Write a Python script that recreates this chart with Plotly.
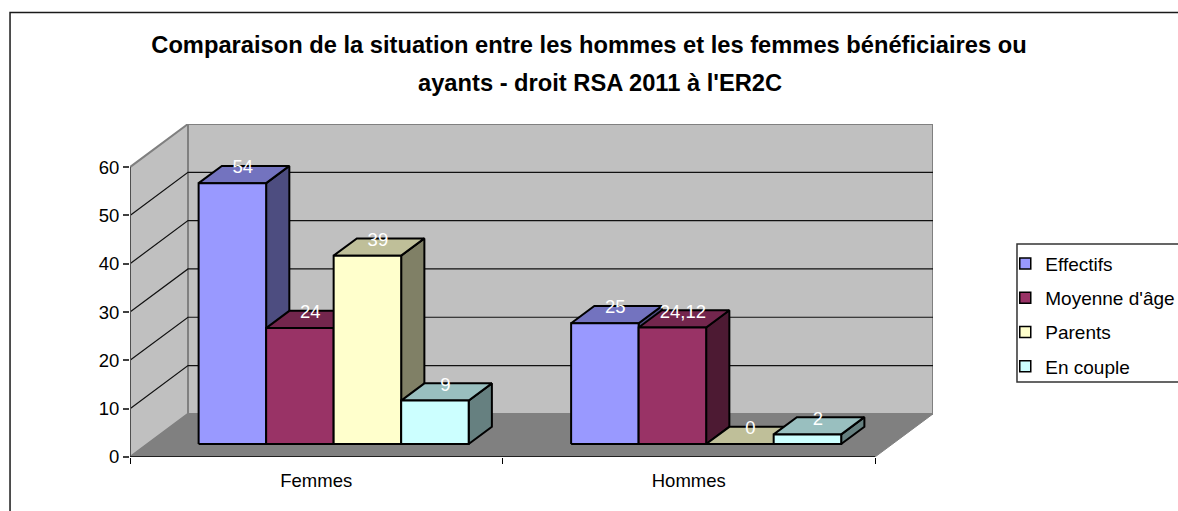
import plotly.graph_objects as go

# Données
categories = ["Femmes", "Hommes"]
series_names = ["Effectifs", "Moyenne d'âge", "Parents", "En couple"]
effectifs = [54, 25]
moyenne_age = [24, 24.12]
parents = [39, 0]
en_couple = [9, 2]
labels_effectifs = ["54", "25"]
labels_moyenne = ["24", "24,12"]
labels_parents = ["39", "0"]
labels_couple = ["9", "2"]
y_ticks = [0, 10, 20, 30, 40, 50, 60]

series = [effectifs, moyenne_age, parents, en_couple]
series_labels = [labels_effectifs, labels_moyenne, labels_parents, labels_couple]

# Couleurs : face avant, dessus, côté
front_colors = ["#9999FF", "#993366", "#FFFFCC", "#CCFFFF"]
top_colors = ["#7373BF", "#73264D", "#BFBF99", "#99BFBF"]
side_colors = ["#4D4D80", "#4D1A33", "#808066", "#668080"]

# Perspective oblique, en unités d'axes
DEPTH_X = 0.1557
DEPTH_Y = 8.92
Y_MAX = 60
BAND = 0.725          # part de la catégorie occupée par les barres
Z0, Z1 = 0.30, 0.70   # profondeur des barres

FONT = "Liberation Sans"


def project(x, y, z=0.0):
    return x + z * DEPTH_X, y + z * DEPTH_Y


def poly(points, color, line_color="black", line_width=2):
    pts = [project(*p) for p in points]
    pts.append(pts[0])
    return go.Scatter(x=[p[0] for p in pts], y=[p[1] for p in pts],
                      mode="lines", fill="toself", fillcolor=color,
                      line=dict(color=line_color, width=line_width),
                      hoverinfo="skip", showlegend=False, cliponaxis=False)


def polyline(points, color, width=1.0):
    pts = [project(*p) for p in points]
    return go.Scatter(x=[p[0] for p in pts], y=[p[1] for p in pts],
                      mode="lines", line=dict(color=color, width=width),
                      hoverinfo="skip", showlegend=False, cliponaxis=False)


fig = go.Figure()
n_cat = len(categories)

# Parois et sol
wall = "#C0C0C0"
edge = "#808080"
fig.add_trace(poly([(0, 0, 0), (0, Y_MAX, 0), (0, Y_MAX, 1), (0, 0, 1)], wall, edge, 2))
fig.add_trace(poly([(0, 0, 1), (0, Y_MAX, 1), (n_cat, Y_MAX, 1), (n_cat, 0, 1)], wall, edge, 2))
fig.add_trace(poly([(0, 0, 0), (n_cat, 0, 0), (n_cat, 0, 1), (0, 0, 1)], edge, edge, 1))

# Quadrillage
for v in y_ticks[1:-1]:
    fig.add_trace(polyline([(0, v, 0), (0, v, 1), (n_cat, v, 1)], "#111111", 1.2))

# Axes
fig.add_trace(polyline([(0, 0, 0), (0, Y_MAX, 0)], "#505050", 2))
fig.add_trace(polyline([(0, 0, 0), (n_cat, 0, 0)], "black", 1.5))

# Barres
n_ser = len(series)
bar_w = BAND / n_ser
for c in range(n_cat):
    left = c + (1 - BAND) / 2
    for s in range(n_ser):
        v = series[s][c]
        x0 = left + s * bar_w
        x1 = x0 + bar_w
        fig.add_trace(poly([(x1, 0, Z0), (x1, v, Z0), (x1, v, Z1), (x1, 0, Z1)], side_colors[s]))
        fig.add_trace(poly([(x0, v, Z0), (x1, v, Z0), (x1, v, Z1), (x0, v, Z1)], top_colors[s]))
        fig.add_trace(poly([(x0, 0, Z0), (x1, 0, Z0), (x1, v, Z0), (x0, v, Z0)], front_colors[s]))

# Étiquettes de données
for c in range(n_cat):
    left = c + (1 - BAND) / 2
    for s in range(n_ser):
        px, py = project(left + (s + 0.5) * bar_w, series[s][c], (Z0 + Z1) / 2)
        fig.add_trace(go.Scatter(x=[px - 0.003], y=[py + 1.2], mode="text",
                                 text=[series_labels[s][c]], textposition="middle center",
                                 textfont=dict(family=FONT, size=18.5, color="white"),
                                 hoverinfo="skip", showlegend=False, cliponaxis=False))

# Entrées de légende
for s, name in enumerate(series_names):
    fig.add_trace(go.Scatter(x=[None], y=[None], mode="markers", name=name,
                             legendgroup=name,
                             marker=dict(symbol="square", size=11, color=front_colors[s],
                                         line=dict(color="black", width=1.5))))

fig.update_layout(
    width=1178, height=511,
    margin=dict(l=130, r=245, t=124, b=54, autoexpand=False),
    paper_bgcolor="white", plot_bgcolor="rgba(0,0,0,0)",
    font=dict(family=FONT, size=18.5, color="black"),
    title=dict(text="<b>Comparaison de la situation entre les hommes et les femmes bénéficiaires ou</b>",
               x=0.5, xanchor="center", y=0.912, yanchor="middle",
               font=dict(family=FONT, size=23.7, color="black")),
    legend=dict(x=1.09, xanchor="left", y=0.638, yanchor="top", tracegroupgap=6.6,
                traceorder="grouped", font=dict(family=FONT, size=19, color="black"),
                bgcolor="rgba(0,0,0,0)", borderwidth=0),
    annotations=[dict(text="<b>ayants - droit RSA 2011 à l'ER2C</b>", xref="paper", yref="paper",
                      x=0.585, y=1.123, xanchor="center", yanchor="middle", showarrow=False,
                      font=dict(family=FONT, size=23.7, color="black"))],
    xaxis=dict(range=[0, n_cat + DEPTH_X], showgrid=False, zeroline=False, showline=False,
               tickmode="array", tickvals=[i + 0.5 for i in range(n_cat)], ticktext=categories,
               ticks="outside", ticklen=7, tickcolor="rgba(0,0,0,0)",
               minor=dict(tickmode="array", tickvals=list(range(n_cat + 1)), ticks="outside",
                          ticklen=6, tickcolor="black", tickwidth=1)),
    yaxis=dict(range=[0, Y_MAX + DEPTH_Y], showgrid=False, zeroline=False, showline=False,
               tickmode="array", tickvals=y_ticks, ticks="outside", ticklen=6,
               tickcolor="#404040", tickwidth=1.5),
    shapes=[
        # Cadre du graphique (côtés gauche et haut visibles) et cadre de légende
        dict(type="rect", xref="paper", yref="paper", x0=-0.1494, x1=1.4, y0=-0.3, y1=1.335,
             line=dict(color="#1a1a1a", width=1.5), layer="below"),
        dict(type="rect", xref="paper", yref="paper", x0=1.1046, x1=1.4, y0=0.225, y1=0.6396,
             line=dict(color="#333333", width=1.5), layer="below"),
    ],
)

# marge du body du navigateur retirée
fig.write_html("out.html", config={"displayModeBar": False},
               post_script="document.body.style.margin='0';")
